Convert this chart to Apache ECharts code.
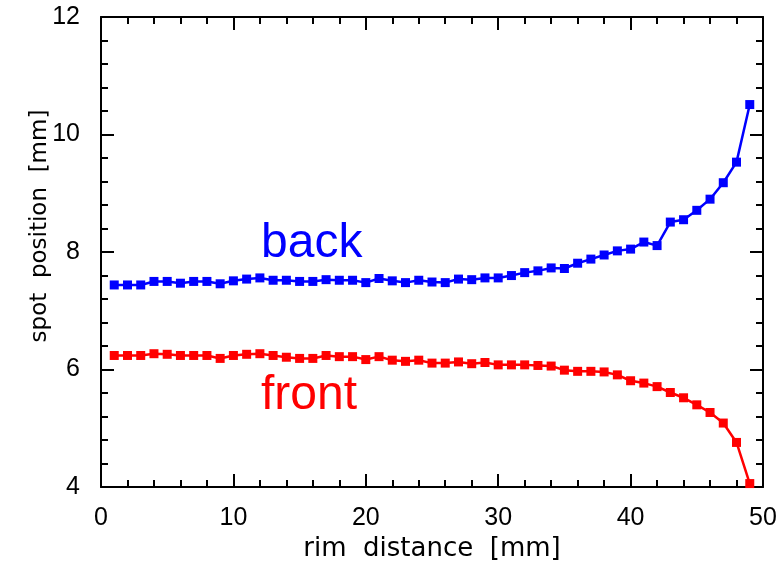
<!DOCTYPE html>
<html>
<head>
<meta charset="utf-8">
<script src="https://cdn.jsdelivr.net/npm/echarts@6/dist/echarts.min.js"></script>
<style>
html,body{margin:0;padding:0;background:#fff;}
#chart{width:782px;height:567px;}
</style>
</head>
<body>
<div id="chart"></div>
<script>
const rimDistance = [1,2,3,4,5,6,7,8,9,10,11,12,13,14,15,16,17,18,19,20,21,22,23,24,25,26,27,28,29,30,31,32,33,34,35,36,37,38,39,40,41,42,43,44,45,46,47,48,49];
const backValues = [7.44,7.44,7.44,7.50,7.50,7.47,7.50,7.50,7.46,7.51,7.54,7.56,7.52,7.52,7.50,7.50,7.53,7.52,7.52,7.48,7.55,7.51,7.48,7.52,7.49,7.48,7.54,7.53,7.56,7.56,7.60,7.65,7.68,7.73,7.72,7.81,7.88,7.95,8.02,8.05,8.17,8.11,8.51,8.55,8.71,8.90,9.18,9.53,10.51];
const frontValues = [6.24,6.24,6.24,6.27,6.26,6.24,6.24,6.24,6.19,6.24,6.26,6.27,6.24,6.21,6.19,6.19,6.24,6.22,6.22,6.17,6.22,6.16,6.14,6.16,6.11,6.11,6.13,6.10,6.12,6.08,6.08,6.08,6.07,6.06,5.99,5.97,5.97,5.96,5.91,5.81,5.77,5.71,5.61,5.52,5.40,5.27,5.09,4.76,4.06];
const xTicks = [0,10,20,30,40,50];
const yTicks = [4,6,8,10,12];
const seriesNames = ['back','front'];
const xTitle = 'rim  distance  [mm]';
const yTitle = 'spot  position  [mm]';

const chart = echarts.init(document.getElementById('chart'));
const tickFont = {fontFamily:'Liberation Sans', fontSize:25, color:'#000'};
const lineStyle = {color:'#000', width:2};
function pair(xs, ys){ return xs.map((x,i)=>[x, ys[i]]); }

const xBase = {
  type:'value', min:xTicks[0], max:xTicks[xTicks.length-1], interval:10,
  axisLine:{show:true, onZero:false, lineStyle},
  axisTick:{show:true, inside:true, length:13, lineStyle},
  minorTick:{show:true, splitNumber:5, length:7, lineStyle},
  splitLine:{show:false}
};
const yBase = {
  type:'value', min:yTicks[0], max:yTicks[yTicks.length-1], interval:2,
  axisLine:{show:true, onZero:false, lineStyle},
  axisTick:{show:true, inside:true, length:13, lineStyle},
  minorTick:{show:true, splitNumber:5, length:7, lineStyle},
  splitLine:{show:false}
};

chart.setOption({
  animation:false,
  backgroundColor:'#fff',
  grid:{left:101, right:19, top:17, bottom:79},
  xAxis:[
    Object.assign({}, xBase, {position:'bottom',
      axisLabel:Object.assign({margin:19}, tickFont),
      name:xTitle, nameLocation:'middle', nameGap:46,
      nameTextStyle:{fontFamily:'DejaVu Sans', fontSize:26, color:'#000'}}),
    Object.assign({}, xBase, {position:'top', axisLabel:{show:false}})
  ],
  yAxis:[
    Object.assign({}, yBase, {position:'left', axisLabel:Object.assign({margin:21}, tickFont)}),
    Object.assign({}, yBase, {position:'right', axisLabel:{show:false}})
  ],
  graphic:[
    {type:'text', x:40, y:226, rotation:Math.PI/2,
     style:{text:yTitle, fontFamily:'DejaVu Sans', fontSize:23, fill:'#000', align:'center', verticalAlign:'middle'}},
    {type:'text', x:261, y:268,
     style:{text:seriesNames[0], fontFamily:'Liberation Sans', fontSize:48, fill:'#0000ff', align:'left', verticalAlign:'bottom'}},
    {type:'text', x:261, y:420,
     style:{text:seriesNames[1], fontFamily:'Liberation Sans', fontSize:48, fill:'#ff0000', align:'left', verticalAlign:'bottom'}}
  ],
  series:[
    {name:seriesNames[0], type:'line', data:pair(rimDistance, backValues), symbol:'rect', symbolSize:9,
     showAllSymbol:true, clip:false, itemStyle:{color:'#0000ff'}, lineStyle:{color:'#0000ff', width:2.5}},
    {name:seriesNames[1], type:'line', data:pair(rimDistance, frontValues), symbol:'rect', symbolSize:9,
     showAllSymbol:true, clip:false, itemStyle:{color:'#ff0000'}, lineStyle:{color:'#ff0000', width:2.5}}
  ]
});
</script>
</body>
</html>
